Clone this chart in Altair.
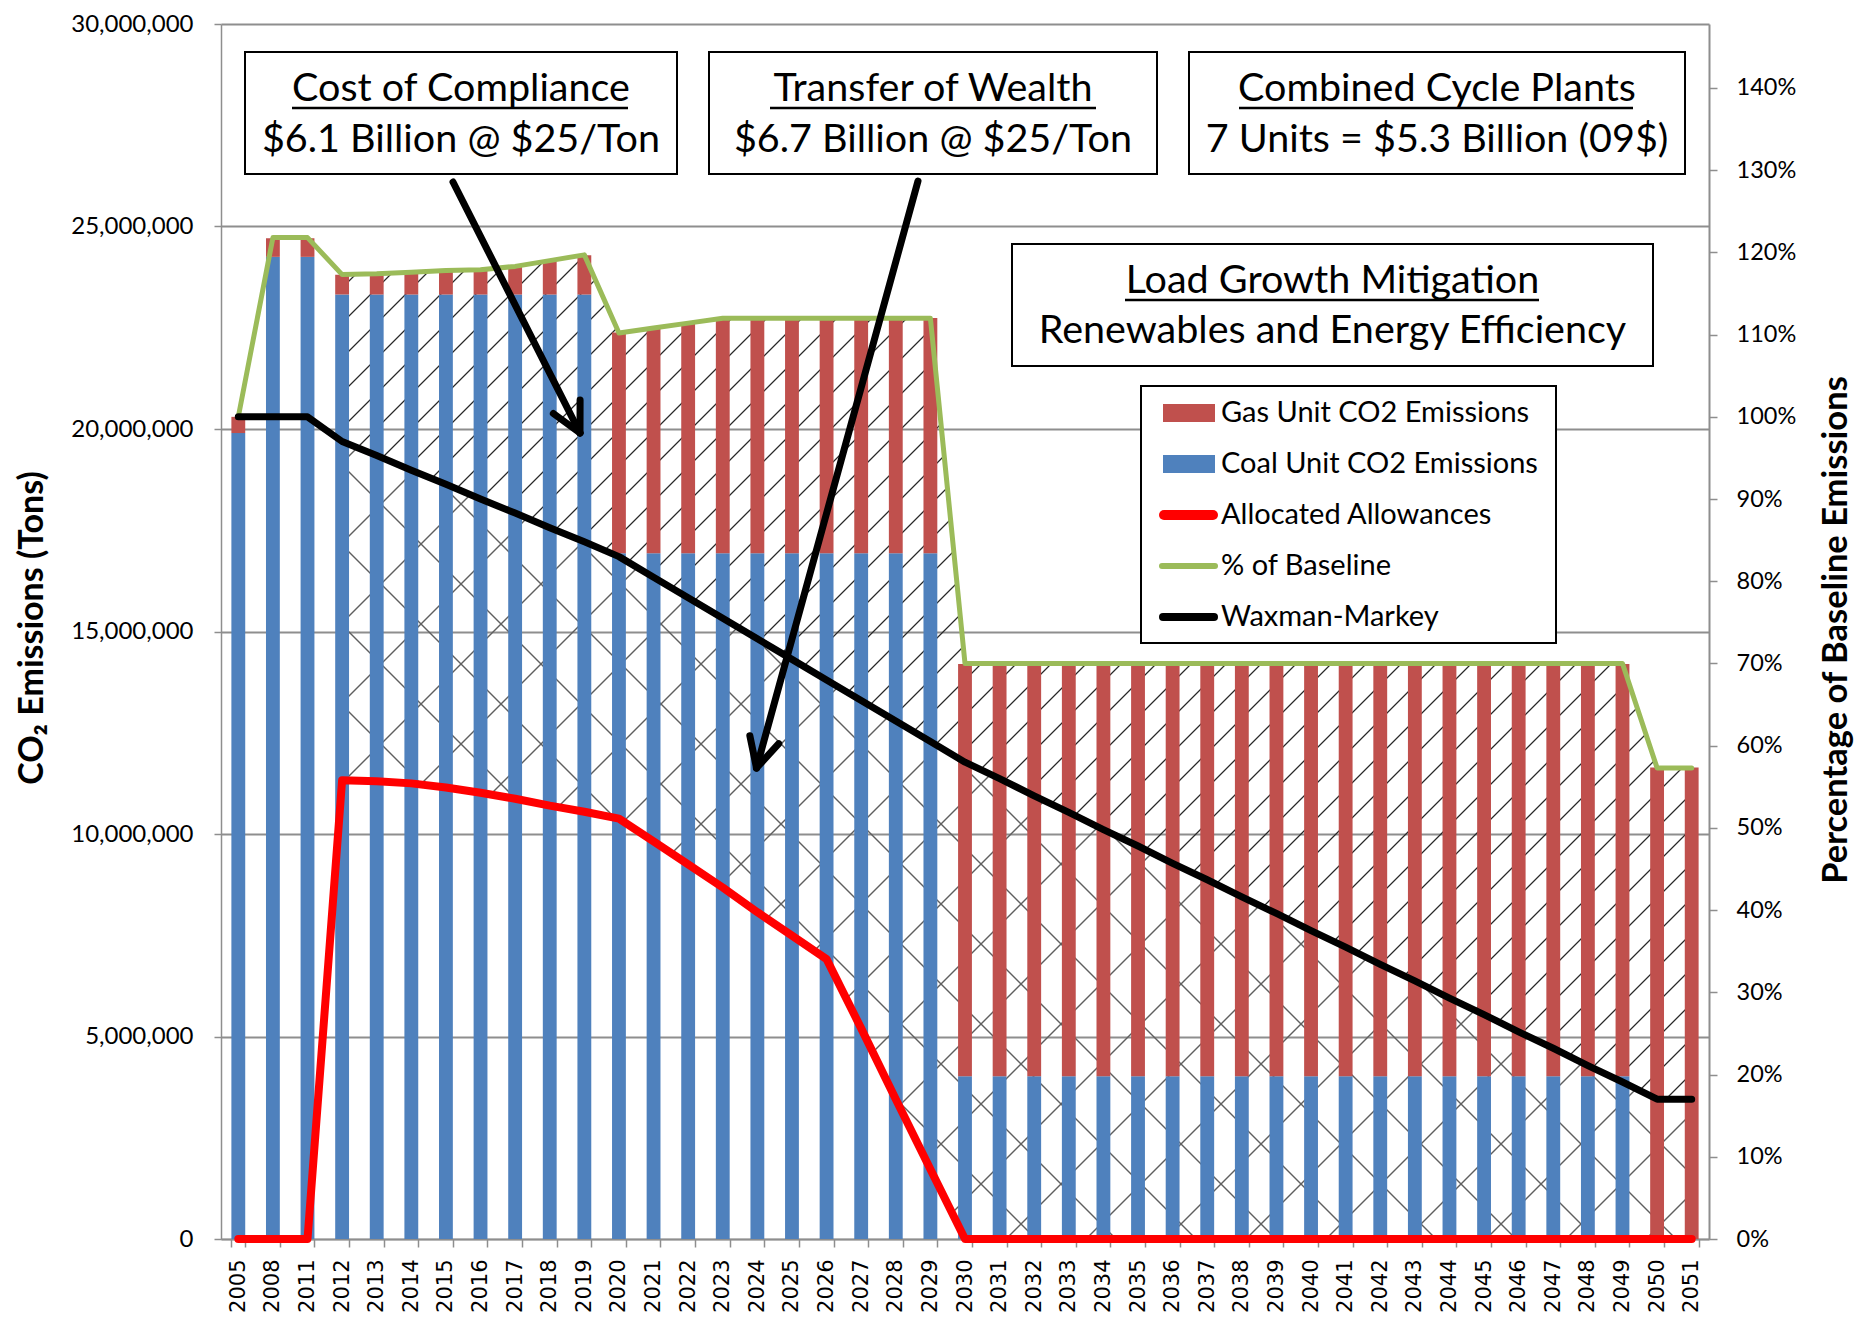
import math
import altair as alt
import pandas as pd

# ---------------- data ----------------
years = ["2005", "2008", "2011", "2012", "2013", "2014", "2015", "2016", "2017",
         "2018", "2019", "2020", "2021", "2022", "2023", "2024", "2025", "2026",
         "2027", "2028", "2029", "2030", "2031", "2032", "2033", "2034", "2035",
         "2036", "2037", "2038", "2039", "2040", "2041", "2042", "2043", "2044",
         "2045", "2046", "2047", "2048", "2049", "2050", "2051"]

# million tons
coal_mt = [19.90, 24.25, 24.25,
           23.32, 23.32, 23.32, 23.32, 23.32, 23.32, 23.32, 23.32,
           16.93, 16.93, 16.93, 16.93, 16.93, 16.93, 16.93, 16.93, 16.93, 16.93,
           4.02, 4.02, 4.02, 4.02, 4.02, 4.02, 4.02, 4.02, 4.02, 4.02,
           4.02, 4.02, 4.02, 4.02, 4.02, 4.02, 4.02, 4.02, 4.02, 4.02,
           0.0, 0.0]
gas_mt = [0.40, 0.46, 0.46,
          0.49, 0.51, 0.55, 0.60, 0.62, 0.70, 0.84, 0.97,
          5.45, 5.57, 5.69, 5.81, 5.81, 5.81, 5.81, 5.81, 5.81, 5.81,
          10.18, 10.18, 10.18, 10.18, 10.18, 10.18, 10.18, 10.18, 10.18, 10.18,
          10.18, 10.18, 10.18, 10.18, 10.18, 10.18, 10.18, 10.18, 10.18, 10.18,
          11.64, 11.64]
allocated_mt = [0.0, 0.0, 0.0,
                11.33, 11.30, 11.25, 11.15, 11.02, 10.87, 10.70, 10.55,
                10.38, 9.82, 9.25, 8.68, 8.07, 7.49, 6.91, 5.20, 3.45, 1.72,
                0, 0, 0, 0, 0, 0, 0, 0, 0, 0, 0, 0, 0, 0, 0, 0, 0, 0, 0, 0, 0, 0]
# percent of 2005 baseline
pct_of_baseline = [100.0, 121.8, 121.8,
                   117.3, 117.4, 117.6, 117.8, 117.9, 118.3, 119.0, 119.7,
                   110.2, 110.8, 111.4, 112.0, 112.0, 112.0, 112.0, 112.0, 112.0, 112.0,
                   70.0, 70.0, 70.0, 70.0, 70.0, 70.0, 70.0, 70.0, 70.0, 70.0,
                   70.0, 70.0, 70.0, 70.0, 70.0, 70.0, 70.0, 70.0, 70.0, 70.0,
                   57.3, 57.3]
waxman_markey_pct = [100.0, 100.0, 100.0,
                     97.0, 95.3, 93.5, 91.8, 90.0, 88.3, 86.5, 84.8,
                     83.0, 80.5, 78.0, 75.5, 73.0, 70.5, 68.0, 65.5, 63.0, 60.5,
                     58.0, 56.0, 53.9, 51.9, 49.8, 47.8, 45.7, 43.7, 41.6, 39.6,
                     37.5, 35.5, 33.4, 31.4, 29.3, 27.3, 25.2, 23.2, 21.1, 19.1,
                     17.0, 17.0]
left_ticks = [0, 5e6, 10e6, 15e6, 20e6, 25e6, 30e6]
right_ticks = [0.0, 0.1, 0.2, 0.3, 0.4, 0.5, 0.6, 0.7, 0.8, 0.9, 1.0, 1.1, 1.2, 1.3, 1.4]
hatch_start = 3  # hatched regions begin at 2012

# ---------------- styling ----------------
TOP = 16
W, H = 1488, 1219 - (TOP - 12)
BLUE, GASRED, GREEN, LRED = "#4F81BD", "#C0504D", "#9BBB59", "#FF0000"
GRID = "#8e8e8e"
FONT = "Lato"

BASE = (coal_mt[0] + gas_mt[0]) * 1e6
YMAX = 30e6
PMAX = YMAX / BASE

df = pd.DataFrame({
    "year": years,
    "coal": [v * 1e6 for v in coal_mt],
    "gas": [v * 1e6 for v in gas_mt],
    "allocated": [v * 1e6 for v in allocated_mt],
    "pct": [v / 100 for v in pct_of_baseline],
    "wm": [v / 100 for v in waxman_markey_pct],
})
df["alloc_pct"] = df["allocated"] / BASE
hdf = df.iloc[hatch_start:].reset_index(drop=True)

xscale = alt.Scale(domain=years, type="band", paddingInner=0.6, paddingOuter=0.3)
xaxis = alt.Axis(title=None, labelAngle=270, labelAlign="right", labelBaseline="middle",
                 labelFont="DejaVu Sans", labelFontSize=21, labelColor="black",
                 labelPadding=12, tickBand="extent", tickSize=8, tickColor=GRID,
                 tickWidth=1.5, domainColor=GRID, domainWidth=1.5, grid=False,
                 labelOverlap=False)


def X(center=True):
    if center:
        return alt.X("year:N", scale=xscale, axis=xaxis, bandPosition=0.5)
    return alt.X("year:N", scale=xscale, axis=xaxis)


tscale = alt.Scale(domain=[0, YMAX], nice=False, zero=True)
pscale = alt.Scale(domain=[0, PMAX], nice=False, zero=True)
left_axis = alt.Axis(orient="left", title=None, values=left_ticks, format=",d",
                     labelFont=FONT, labelFontSize=24, labelColor="black", labelPadding=21,
                     tickSize=7, tickColor=GRID, tickWidth=1.5, domainColor=GRID, domainWidth=1.5,
                     grid=True, gridColor=GRID, gridWidth=2)
right_axis = alt.Axis(orient="right", title=None, values=right_ticks, format=".0%",
                      labelFont=FONT, labelFontSize=23.5, labelColor="black", labelPadding=19,
                      tickSize=8, tickColor=GRID, tickWidth=1.5, domainColor=GRID, domainWidth=2,
                      grid=False)


def xc(i):
    return W / len(years) * (i + 0.5)


def ypx(frac):
    return H * (1 - frac / PMAX)


def hatch(x0, y0, x1, y1, spacing, half, rgb, up=True):
    Wb, Hb = x1 - x0, y1 - y0
    span = Wb + Hb
    kk = span / (Wb ** 2 + Hb ** 2)
    if up:
        start = x0 + y0
        g = dict(x1=0, y1=0, x2=kk * Wb, y2=kk * Hb)
    else:
        start = x0 - y1
        g = dict(x1=0, y1=1, x2=kk * Wb, y2=1 - kk * Hb)
    clear = "rgba(%d,%d,%d,0)" % rgb
    solid = "rgba(%d,%d,%d,1)" % rgb
    stops = [alt.GradientStop(color=clear, offset=0)]
    last = 0.0
    c = math.ceil((start - half) / spacing) * spacing
    while c - half <= start + span:
        for off, col in ((c - half, clear), (c, solid), (c + half, clear)):
            t = min(1.0, max(0.0, (off - start) / span))
            t = max(last, round(t, 6))
            stops.append(alt.GradientStop(color=col, offset=t))
            last = t
        c += spacing
    stops.append(alt.GradientStop(color=clear, offset=1))
    return alt.LinearGradient(gradient="linear", stops=stops, **g)


n = len(years)
dx0, dx1 = xc(hatch_start), xc(n - 1)
diag_grad = hatch(dx0, ypx(hdf["pct"].max()), dx1, ypx(hdf["wm"].min()), 35, 1.7, (40, 40, 40), True)
cy0, cy1 = ypx(hdf["wm"].max()), ypx(hdf["alloc_pct"].min())
cross_a = hatch(dx0, cy0, dx1, cy1, 80, 2.0, (95, 95, 95), True)
cross_b = hatch(dx0, cy0, dx1, cy1, 80, 2.0, (95, 95, 95), False)

layers = []
for grad in (cross_a, cross_b):
    layers.append(alt.Chart(hdf).mark_area(fill=grad, strokeWidth=0, interpolate="linear").encode(
        x=X(), y=alt.Y("wm:Q", scale=pscale, axis=None), y2="alloc_pct:Q"))
layers.append(alt.Chart(hdf).mark_area(fill=diag_grad, strokeWidth=0, interpolate="linear").encode(
    x=X(), y=alt.Y("pct:Q", scale=pscale, axis=None), y2="wm:Q"))

layers.append(alt.Chart(df).transform_fold(["coal", "gas"], as_=["series", "value"]).mark_bar().encode(
    x=X(False),
    y=alt.Y("value:Q", stack="zero", scale=tscale, axis=left_axis),
    color=alt.Color("series:N", scale=alt.Scale(domain=["coal", "gas"], range=[BLUE, GASRED]), legend=None),
    order=alt.Order("series:N", sort="ascending")))

layers.append(alt.Chart(df).mark_line(color=LRED, strokeWidth=8, strokeCap="round", strokeJoin="round").encode(
    x=X(), y=alt.Y("allocated:Q", scale=tscale, axis=None)))
layers.append(alt.Chart(df).mark_line(color=GREEN, strokeWidth=5, strokeCap="round", strokeJoin="round").encode(
    x=X(), y=alt.Y("pct:Q", scale=pscale, axis=right_axis)))
layers.append(alt.Chart(df).mark_line(color="black", strokeWidth=7, strokeCap="round", strokeJoin="round").encode(
    x=X(), y=alt.Y("wm:Q", scale=pscale, axis=None)))

# ---------------- annotations (pixel layout, relative to the page) ----------------
one = pd.DataFrame({"k": [0]})
OX, OY = 221, 8 + TOP  # page position of the plot origin


def box(x1, y1, x2, y2, sw=2):
    return alt.Chart(one).mark_rect(fill="white", stroke="black", strokeWidth=sw).encode(
        x=alt.value(x1 - OX), x2=alt.value(x2 - OX), y=alt.value(y1 - OY), y2=alt.value(y2 - OY))


def label(txt, x, y, size, align="center", baseline="alphabetic", weight="normal", angle=None):
    kw = dict(text=txt, font=FONT, fontSize=size, align=align, baseline=baseline,
              fontWeight=weight, color="black")
    if angle is not None:
        kw["angle"] = angle
    return alt.Chart(one).mark_text(**kw).encode(x=alt.value(x - OX), y=alt.value(y - OY))


def seg(x1, y1, x2, y2, color="black", width=2.5, cap="butt"):
    return alt.Chart(one).mark_rule(color=color, strokeWidth=width, strokeCap=cap).encode(
        x=alt.value(x1 - OX), y=alt.value(y1 - OY), x2=alt.value(x2 - OX), y2=alt.value(y2 - OY))


def arrow(x0, y0, x1, y1, L=33, ang=27, width=7):
    out = [seg(x0, y0, x1, y1, width=width, cap="round")]
    d = math.atan2(y0 - y1, x0 - x1)
    for a in (math.radians(ang), -math.radians(ang)):
        out.append(seg(x1, y1, x1 + L * math.cos(d + a), y1 + L * math.sin(d + a), width=width, cap="round"))
    return out


BOXF = 39.5
boxes = [
    ((245, 52, 677, 174), "Cost of Compliance", "$6.1 Billion @ $25/Ton", (292, 628)),
    ((709, 52, 1157, 174), "Transfer of Wealth", "$6.7 Billion @ $25/Ton", (770, 1096)),
    ((1189, 52, 1685, 174), "Combined Cycle Plants", "7 Units = $5.3 Billion (09$)", (1239, 1633)),
]
for (bx1, by1, bx2, by2), t1, t2, (u1, u2) in boxes:
    cx = (bx1 + bx2) / 2
    layers.append(box(bx1, by1, bx2, by2))
    layers.append(label(t1, cx, 101, BOXF))
    layers.append(seg(u1, 108, u2, 108, width=2.5))
    layers.append(label(t2, cx, 152, BOXF))

layers.append(box(1012, 244, 1653, 366))
layers.append(label("Load Growth Mitigation", 1332.5, 293, BOXF))
layers.append(seg(1125, 300, 1539, 300, width=2.5))
layers.append(label("Renewables and Energy Efficiency", 1332.5, 343, BOXF))

# legend box
layers.append(box(1141, 386, 1556, 643))
LF = 29
layers.append(alt.Chart(one).mark_rect(fill=GASRED).encode(
    x=alt.value(1163 - OX), x2=alt.value(1215 - OX), y=alt.value(404 - OY), y2=alt.value(422 - OY)))
layers.append(alt.Chart(one).mark_rect(fill=BLUE).encode(
    x=alt.value(1163 - OX), x2=alt.value(1215 - OX), y=alt.value(455 - OY), y2=alt.value(473 - OY)))
layers.append(seg(1164, 515, 1213, 515, color=LRED, width=10, cap="round"))
layers.append(seg(1162, 566, 1215, 566, color=GREEN, width=6, cap="round"))
layers.append(seg(1163, 617, 1214, 617, color="black", width=8, cap="round"))
for txt, yy in (("Gas Unit CO2 Emissions", 413), ("Coal Unit CO2 Emissions", 464),
                ("Allocated Allowances", 515), ("% of Baseline", 566), ("Waxman-Markey", 617)):
    layers.append(label(txt, 1221, yy, LF, align="left", baseline="middle"))

# arrows
layers += arrow(453, 182, 580, 433)
layers += arrow(918, 181, 756.5, 768)

# axis titles
layers.append(label("CO₂ Emissions (Tons)", 33, 628, 34, baseline="middle", weight="bold", angle=270))
layers.append(label("Percentage of Baseline Emissions", 1837, 630, 34.5, baseline="middle", weight="bold", angle=270))

chart = alt.layer(*layers).resolve_scale(y="independent").properties(
    width=W, height=H,
    autosize=alt.AutoSizeParams(type="none"),
    padding={"left": 213, "top": TOP, "right": 148, "bottom": 80},
    background="white",
).configure_view(stroke=None)

chart.save("out.html", embed_options={"renderer": "svg", "actions": False})
